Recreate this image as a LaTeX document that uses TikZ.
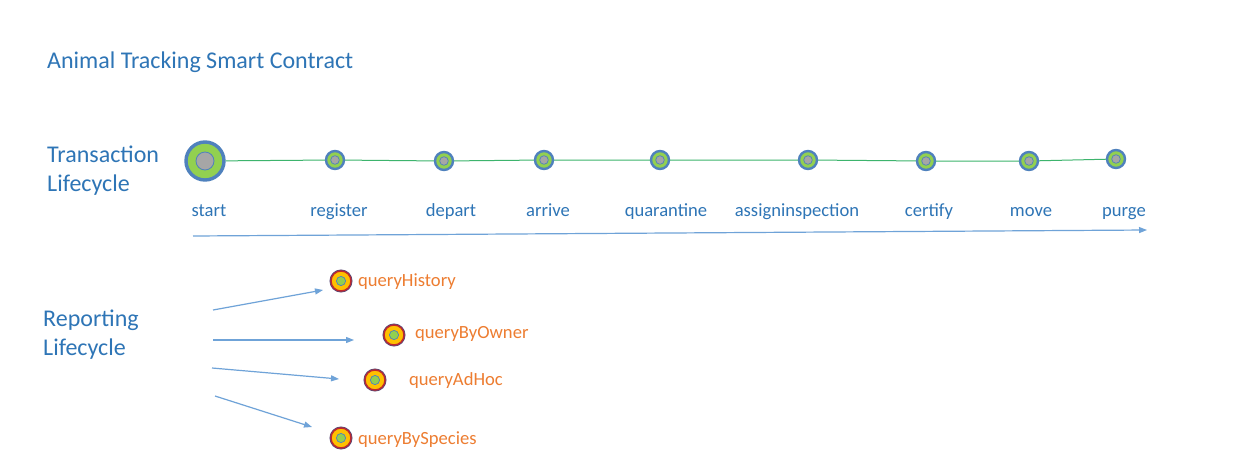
\documentclass[tikz,border=0pt]{standalone}
\usepackage{fontspec}
\setmainfont{Carlito}
\usetikzlibrary{arrows.meta}
\definecolor{headblue}{HTML}{2E75B6}
\definecolor{ringblue}{HTML}{4F81BD}
\definecolor{leafgreen}{HTML}{92D050}
\definecolor{coregray}{HTML}{A6A6A6}
\definecolor{linegreen}{HTML}{3DB46D}
\definecolor{arrowblue}{HTML}{6FA3D8}
\definecolor{queryorange}{HTML}{ED7D31}
\definecolor{ringred}{HTML}{C0282D}
\definecolor{ringdark}{HTML}{5B4A78}
\definecolor{fillyellow}{HTML}{FFC000}
\tikzset{
  heading/.style={text=headblue, font=\fontsize{24}{29}\selectfont, align=left, anchor=base west, inner sep=0pt},
  stagelabel/.style={text=headblue, font=\fontsize{18.6}{22}\selectfont, anchor=base, inner sep=0pt},
  querylabel/.style={text=queryorange, font=\fontsize{18.6}{22}\selectfont, anchor=base west, inner sep=0pt},
  stage/.style={circle, fill=leafgreen, draw=ringblue, line width=2.4pt, minimum size=18pt, inner sep=0pt,
    path picture={\fill[coregray, draw=ringblue, line width=0.7pt] (path picture bounding box.center) circle (4.3pt);}},
  startstage/.style={stage, line width=3.4pt, minimum size=38pt,
    path picture={\fill[coregray, draw=ringblue, line width=0.8pt] (path picture bounding box.center) circle (9pt);}},
  query/.style={circle, fill=fillyellow, draw=ringred, line width=1.4pt, minimum size=20pt, inner sep=0pt,
    preaction={draw=ringdark, line width=3pt},
    path picture={\fill[leafgreen, draw=ringblue, line width=0.7pt] (path picture bounding box.center) circle (4.6pt);}},
  tline/.style={linegreen, line width=1pt},
  flow/.style={arrowblue, line width=1.2pt, -{Triangle[length=8pt,width=6pt]}}
}
\begin{document}
\begin{tikzpicture}[x=1pt, y=-1pt]
  \useasboundingbox[fill=white] (0,0) rectangle (1250,474);
  % headings
  \node[heading] (title) at (47,68) {Animal Tracking Smart Contract};
  \node[heading] (trans) at (47,191) {Transaction\\Lifecycle};
  \node[heading] (report) at (43,355) {Reporting\\Lifecycle};
  % transaction lifecycle
  \node[startstage] (start) at (205,161) {};
  \node[stage] (register) at (335,160) {};
  \node[stage] (depart) at (444,161) {};
  \node[stage] (arrive) at (544,160) {};
  \node[stage] (quarantine) at (660,160) {};
  \node[stage] (assign) at (808,160) {};
  \node[stage] (certify) at (926,161) {};
  \node[stage] (move) at (1029,161) {};
  \node[stage] (purge) at (1116,159) {};
  \draw[tline] (start) -- (register) -- (depart) -- (arrive) -- (quarantine) -- (assign) -- (certify) -- (move) -- (purge);
  \node[stagelabel] (startl) at (209,216) {start};
  \node[stagelabel] (registerl) at (339,216) {register};
  \node[stagelabel] (departl) at (451,216) {depart};
  \node[stagelabel] (arrivel) at (548,216) {arrive};
  \node[stagelabel] (quarantinel) at (666,216) {quarantine};
  \node[stagelabel] (assignl) at (797,216) {assigninspection};
  \node[stagelabel] (certifyl) at (929,216) {certify};
  \node[stagelabel] (movel) at (1031,216) {move};
  \node[stagelabel] (purgel) at (1124,216) {purge};
  \coordinate (tfrom) at (193,236);
  \coordinate (tto) at (1147,230);
  \draw[flow] (tfrom) -- (tto);
  % reporting lifecycle
  \node[query] (history) at (341,281) {};
  \node[query] (owner) at (394,335) {};
  \node[query] (adhoc) at (375,380) {};
  \node[query] (species) at (341,438) {};
  \node[querylabel] (historyl) at (358,286) {queryHistory};
  \node[querylabel] (ownerl) at (415,338) {queryByOwner};
  \node[querylabel] (adhocl) at (409,385) {queryAdHoc};
  \node[querylabel] (speciesl) at (358,444) {queryBySpecies};
  \coordinate (h0) at (213,310);
  \coordinate (h1) at (323,290);
  \coordinate (o0) at (213,340);
  \coordinate (o1) at (354,340);
  \coordinate (a0) at (212,368);
  \coordinate (a1) at (339,379);
  \coordinate (s0) at (215,396);
  \coordinate (s1) at (312,427);
  \draw[flow] (h0) -- (h1);
  \draw[flow] (o0) -- (o1);
  \draw[flow] (a0) -- (a1);
  \draw[flow] (s0) -- (s1);
\end{tikzpicture}
\end{document}
